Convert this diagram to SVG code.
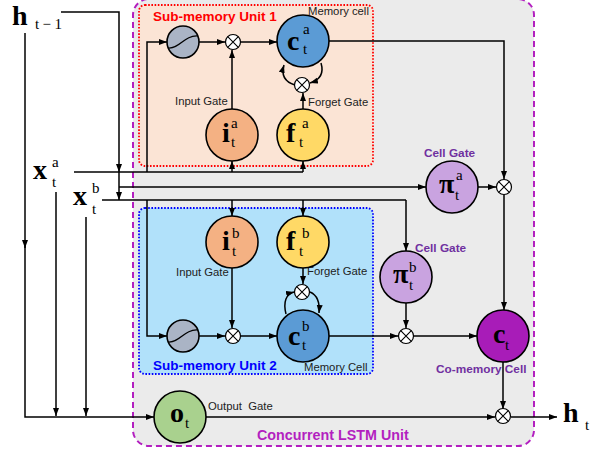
<svg xmlns="http://www.w3.org/2000/svg" width="599" height="452" viewBox="0 0 599 452">
<defs>
<marker id="ah" markerUnits="userSpaceOnUse" markerWidth="9" markerHeight="7" refX="8" refY="3" orient="auto"><path d="M0,0 L8,3 L0,6 z" fill="#000"/></marker>
<style>
.ln{fill:none;stroke:#000;stroke-width:1.5}
.ar{marker-end:url(#ah)}
.nd{stroke:#000;stroke-width:1.6}
.mx circle{fill:#fff;stroke:#000;stroke-width:1.2}
.mx path{stroke:#000;stroke-width:1.1;fill:none}
.m{font-family:"Liberation Serif",serif;font-weight:bold;font-size:28px;fill:#000}
.s{font-family:"Liberation Serif",serif;font-size:15px;fill:#000}
.lb{font-family:"Liberation Sans",Arial,sans-serif;font-size:11.3px;fill:#222}
.cg{font-family:"Liberation Sans",Arial,sans-serif;font-weight:bold;font-size:11.8px;fill:#7030a0}
</style>
</defs>
<rect width="599" height="452" fill="#fff"/>
<g id="concurrent-unit">
<rect x="133" y="-1" width="401" height="447" rx="16" fill="#ebebeb" stroke="#b31fc0" stroke-width="2" stroke-dasharray="6,4"/>
<text x="257" y="440" font-family="Liberation Sans,Arial,sans-serif" font-weight="bold" font-size="14.3" fill="#b31fc0">Concurrent LSTM Unit</text>
</g>
<g id="unit1">
<rect x="139" y="5" width="234" height="161" rx="6" fill="#fbe4d5" stroke="#ff0000" stroke-width="1.8" stroke-dasharray="1.6,1.6"/>
<text x="153" y="21" font-family="Liberation Sans,Arial,sans-serif" font-weight="bold" font-size="13.5" fill="#ff0000">Sub-memory Unit 1</text>
<text class="lb" x="308" y="15">Memory cell</text>
<text class="lb" x="175" y="105">Input Gate</text>
<text class="lb" x="308" y="106">Forget Gate</text>
</g>
<g id="unit2">
<rect x="139" y="208" width="234" height="166" rx="6" fill="#b1e1fa" stroke="#0000ff" stroke-width="1.8" stroke-dasharray="1.6,1.6"/>
<text x="153" y="370" font-family="Liberation Sans,Arial,sans-serif" font-weight="bold" font-size="13.5" fill="#0000ff">Sub-memory Unit 2</text>
<text class="lb" x="304" y="371">Memory Cell</text>
<text class="lb" x="176" y="276">Input Gate</text>
<text class="lb" x="307" y="275">Forget Gate</text>
</g>
<g id="connectors">
<path class="ln ar" d="M61,12 H119 V172"/>
<path class="ln ar" d="M119,172 V200"/>
<path class="ln ar" d="M119,187 H426"/>
<path class="ln" d="M74,172 H303"/>
<path class="ln ar" d="M147,172 V42 H167"/>
<path class="ln ar" d="M232,172 V161"/>
<path class="ln ar" d="M303,172 V161"/>
<path class="ln" d="M102,200 H406"/>
<path class="ln ar" d="M406,200 V251"/>
<path class="ln ar" d="M147,200 V336 H167"/>
<path class="ln ar" d="M232,200 V216"/>
<path class="ln ar" d="M303,200 V216"/>
<path class="ln ar" d="M25,33 V248"/>
<path class="ln ar" d="M25,245 V417 H154"/>
<path class="ln ar" d="M56,192 V416"/>
<path class="ln ar" d="M86,217 V416"/>
<path class="ln ar" d="M206,417 H495"/>
<path class="ln ar" d="M511,417 H557"/>
<path class="ln ar" d="M329,41 H504 V179"/>
<path class="ln ar" d="M478,187 H496"/>
<path class="ln ar" d="M504,195 V310"/>
<path class="ln ar" d="M503,362 V409"/>
<path class="ln ar" d="M329,336 H398"/>
<path class="ln ar" d="M414,336 H477"/>
<path class="ln ar" d="M406,303 V328"/>
<path class="ln ar" d="M199,42 H225"/>
<path class="ln ar" d="M241,42 H277"/>
<path class="ln ar" d="M232,109 V50"/>
<path class="ln ar" d="M303,109 V93"/>
<path class="ln ar" d="M295,85 C285,82 281,75 284,65"/>
<path class="ln ar" d="M321,63 C324,73 320,80 310,83"/>
<path class="ln ar" d="M199,336 H225"/>
<path class="ln ar" d="M241,336 H277"/>
<path class="ln ar" d="M232,268 V328"/>
<path class="ln ar" d="M303,268 V284"/>
<path class="ln ar" d="M286,314 C283,302 286,294 294,292"/>
<path class="ln ar" d="M310,292 C317,295 320,302 319,313"/>
</g>
<g id="tanh-a"><circle class="nd" cx="183" cy="42" r="16" fill="#aab4c5"/><path d="M168,48 C180,49 184,35 198,36" fill="none" stroke="#000" stroke-width="1.3"/></g>
<g id="mult-ia" class="mx"><circle cx="233" cy="42" r="7.5"/><path d="M227.7,36.7 L238.3,47.3 M238.3,36.7 L227.7,47.3"/></g>
<g id="c-a"><circle class="nd" cx="303" cy="41" r="26" fill="#5b9bd5"/><text class="m" x="287" y="50">c</text><text class="s" x="303" y="34">a</text><text class="s" x="303" y="54">t</text></g>
<g id="mult-fa" class="mx"><circle cx="302" cy="85" r="7.5"/><path d="M296.7,79.7 L307.3,90.3 M307.3,79.7 L296.7,90.3"/></g>
<g id="i-a"><circle class="nd" cx="232" cy="135" r="26" fill="#f4b183"/><text class="m" x="222" y="142">i</text><text class="s" x="231" y="128">a</text><text class="s" x="231" y="147">t</text></g>
<g id="f-a"><circle class="nd" cx="303" cy="135" r="26" fill="#ffd966"/><text class="m" x="286" y="142">f</text><text class="s" x="302" y="128">a</text><text class="s" x="299" y="147">t</text></g>
<g id="pi-a"><circle class="nd" cx="452" cy="187" r="26" fill="#c9a3e0"/><text class="m" x="439" y="193">π</text><text class="s" x="456" y="180">a</text><text class="s" x="455" y="200">t</text><text class="cg" x="424" y="157">Cell Gate</text></g>
<g id="mult-a" class="mx"><circle cx="504" cy="187" r="7.5"/><path d="M498.7,181.7 L509.3,192.3 M509.3,181.7 L498.7,192.3"/></g>
<g id="i-b"><circle class="nd" cx="232" cy="242" r="26" fill="#f4b183"/><text class="m" x="222" y="250">i</text><text class="s" x="232" y="238">b</text><text class="s" x="232" y="256">t</text></g>
<g id="f-b"><circle class="nd" cx="303" cy="242" r="26" fill="#ffd966"/><text class="m" x="286" y="250">f</text><text class="s" x="302" y="238">b</text><text class="s" x="299" y="256">t</text></g>
<g id="mult-fb" class="mx"><circle cx="302" cy="292" r="7.5"/><path d="M296.7,286.7 L307.3,297.3 M307.3,286.7 L296.7,297.3"/></g>
<g id="tanh-b"><circle class="nd" cx="183" cy="336" r="16" fill="#aab4c5"/><path d="M168,342 C180,343 184,329 198,330" fill="none" stroke="#000" stroke-width="1.3"/></g>
<g id="mult-ib" class="mx"><circle cx="233" cy="336" r="7.5"/><path d="M227.7,330.7 L238.3,341.3 M238.3,330.7 L227.7,341.3"/></g>
<g id="c-b"><circle class="nd" cx="303" cy="336" r="26" fill="#5b9bd5"/><text class="m" x="288" y="345">c</text><text class="s" x="302" y="331">b</text><text class="s" x="302" y="350">t</text></g>
<g id="pi-b"><circle class="nd" cx="406" cy="277" r="26" fill="#c9a3e0"/><text class="m" x="393" y="283">π</text><text class="s" x="409" y="272">b</text><text class="s" x="409" y="290">t</text><text class="cg" x="415" y="252">Cell Gate</text></g>
<g id="mult-b" class="mx"><circle cx="406" cy="336" r="7.5"/><path d="M400.7,330.7 L411.3,341.3 M411.3,330.7 L400.7,341.3"/></g>
<g id="c-t"><circle class="nd" cx="503" cy="336" r="26" fill="#a81cb8"/><text class="m" x="493" y="343">c</text><text class="s" x="505" y="350">t</text><text class="cg" x="436" y="373">Co-memory Cell</text></g>
<g id="o-t"><circle class="nd" cx="180" cy="417" r="26" fill="#a9d18e"/><text class="m" x="170" y="422">o</text><text class="s" x="185" y="428">t</text><text class="lb" x="208" y="410" xml:space="preserve">Output  Gate</text></g>
<g id="mult-out" class="mx"><circle cx="503" cy="416" r="7.5"/><path d="M497.7,410.7 L508.3,421.3 M508.3,410.7 L497.7,421.3"/></g>
<g id="h-prev"><text class="m" x="12" y="25" font-size="29">h</text><text class="s" x="35" y="29" font-size="16" textLength="27">t−1</text></g>
<g id="x-a"><text class="m" x="33" y="179">x</text><text class="s" x="52" y="167">a</text><text class="s" x="52" y="187">t</text></g>
<g id="x-b"><text class="m" x="73" y="205">x</text><text class="s" x="92" y="193">b</text><text class="s" x="92" y="214">t</text></g>
<g id="h-t"><text class="m" x="563" y="422" font-size="30">h</text><text class="s" x="585" y="430">t</text></g>
</svg>
